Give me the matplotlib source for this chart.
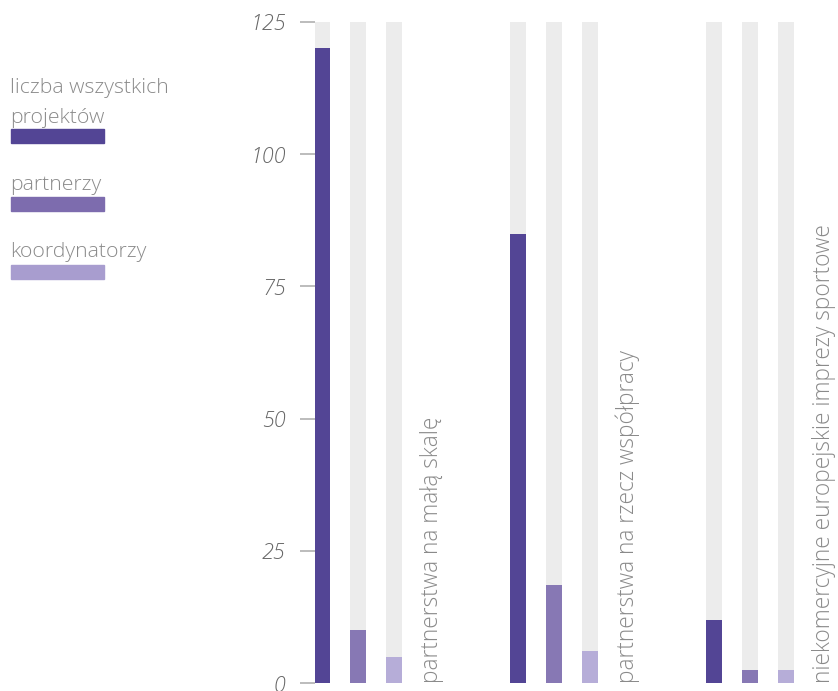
import matplotlib
matplotlib.use("Agg")
import matplotlib.pyplot as plt
from matplotlib.patches import Rectangle

categories = ["partnerstwa na małą skalę", "partnerstwa na rzecz współpracy",
              "niekomercyjne europejskie imprezy sportowe"]
series_names = ["liczba wszystkich\nprojektów", "partnerzy", "koordynatorzy"]
projekty = [120, 85, 12]
partnerzy = [10, 18.5, 2.5]
koordynatorzy = [5, 6, 2.5]
y_ticks = [0, 25, 50, 75, 100, 125]
y_max = 125

colors = ["#534595", "#8778b4", "#b6add8"]
legend_colors = ["#534595", "#7d6cae", "#a89dcf"]
bg = "#ececec"
font = "Open Sans"
fw = 300

W, H = 838, 691
fig = plt.figure(figsize=(W / 100, H / 100), dpi=100)
ax_left, ax_right = 315, 838
ax_bottom, ax_top = 683, 22
ax = fig.add_axes([ax_left / W, (H - ax_bottom) / H, (ax_right - ax_left) / W, (ax_bottom - ax_top) / H])

group_gap = 196 / 36
bar_w = 16 / 36
series = [projekty, partnerzy, koordynatorzy]
for g, cat in enumerate(categories):
    base = g * group_gap
    for j, vals in enumerate(series):
        x = base + j
        ax.bar(x, y_max, width=bar_w, color=bg, zorder=1)
        ax.bar(x, vals[g], width=bar_w, color=colors[j], zorder=2)
    ax.text(base + 3.05, 0, cat, rotation=90, ha="center", va="bottom",
            fontsize=16.3, color="#8a8a8a", family=font, fontweight=fw)

ax.set_ylim(0, y_max)
ax.set_xlim((ax_left - 322) / 36, (ax_right - 322) / 36)
for s in ax.spines.values():
    s.set_visible(False)
ax.set_xticks([])
ax.set_yticks(y_ticks)
ax.set_yticklabels([str(t) for t in y_ticks], fontsize=15.5, color="#666666",
                   family=font, style="italic", fontweight=fw)
ax.tick_params(axis="y", length=11, width=1.2, color="#b0b0b0", pad=10, direction="out")

# legend drawn in figure pixel coordinates
first_baselines = [93, 190, 257]
line_step = 30
patch_tops = [129, 197, 265]
for name, c, bl, pt in zip(series_names, legend_colors, first_baselines, patch_tops):
    for k, line in enumerate(name.split("\n")):
        fig.text(10 / W, 1 - (bl + k * line_step) / H, line, ha="left", va="baseline",
                 fontsize=15.3, color="#8a8a8a", family=font, fontweight=fw)
    fig.patches.append(Rectangle((11 / W, 1 - (pt + 14) / H), 93 / W, 14 / H,
                                 transform=fig.transFigure, color=c, figure=fig))

fig.savefig("out.png", dpi=100)
